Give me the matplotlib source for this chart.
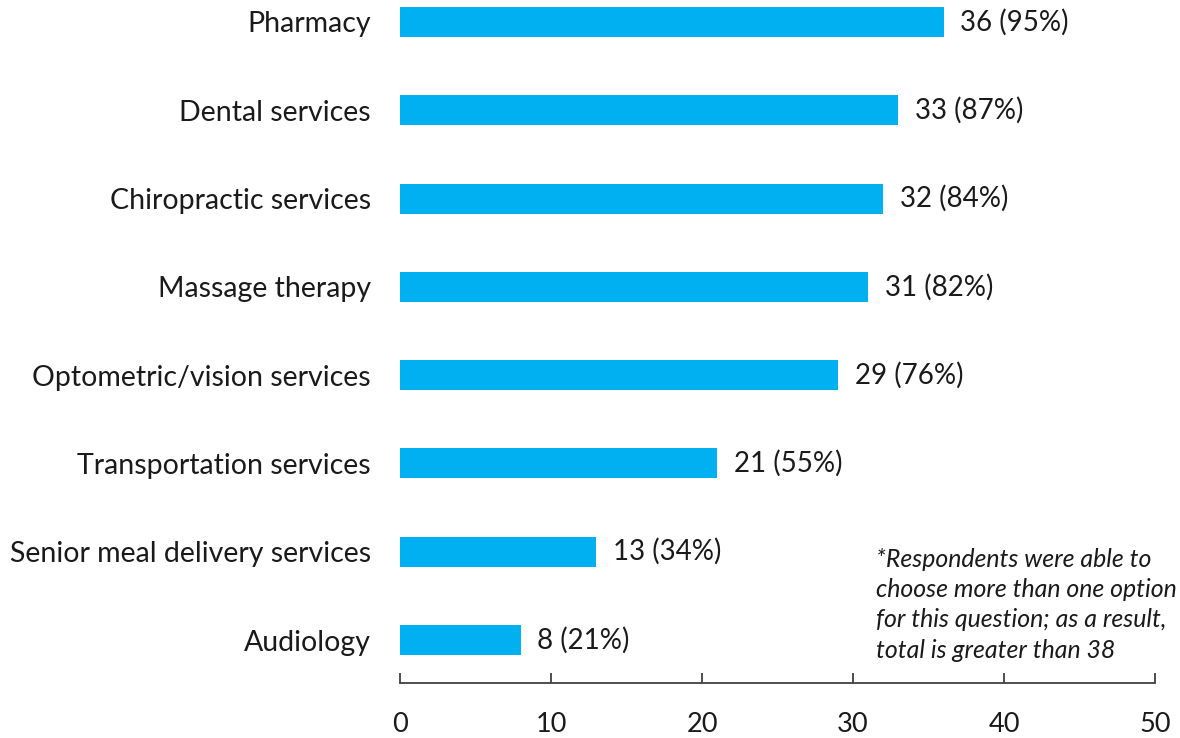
import matplotlib
matplotlib.use("Agg")
import matplotlib.pyplot as plt

# services offered, bottom to top
servicios = ["Audiology", "Senior meal delivery services", "Transportation services",
             "Optometric/vision services", "Massage therapy", "Chiropractic services",
             "Dental services", "Pharmacy"]
conteos = [8, 13, 21, 29, 31, 32, 33, 36]
porcentajes = [21, 34, 55, 76, 82, 84, 87, 95]
ticks_x = [0, 10, 20, 30, 40, 50]

nota = ("*Respondents were able to\nchoose more than one option\n"
        "for this question; as a result,\ntotal is greater than 38")

plt.rcParams['font.family'] = ['Lato', 'DejaVu Sans']
texto = '#1a1a1a'

fig = plt.figure(figsize=(11.8, 7.38), dpi=100)
ax = fig.add_axes([400/1180, 55/738, 755/1180, 683/738])

pos = range(len(servicios))
ax.barh(pos, conteos, height=0.34, color='#00B0F0')

for y, c, p in zip(pos, conteos, porcentajes):
    ax.text(c + 1.1, y, f"{c} ({p}%)", va='center', ha='left', fontsize=20, color=texto)

ax.set_xlim(0, 50)
ax.set_ylim(-0.487, 7.249)
ax.set_xticks(ticks_x)
ax.set_yticks(list(pos))
ax.set_yticklabels(servicios)

for s in ['top', 'right', 'left']:
    ax.spines[s].set_visible(False)
ax.spines['bottom'].set_color('#404040')
ax.spines['bottom'].set_linewidth(1.3)

ax.tick_params(axis='y', length=0, pad=21, labelsize=20.5, labelcolor=texto)
ax.tick_params(axis='x', direction='in', length=7, width=1.3, color='#404040',
               pad=21, labelsize=19.5, labelcolor=texto)

# footnote about multiple answers
fig.text(876/1180, 1 - 548/738, nota, ha='left', va='top', fontsize=17.9,
         style='italic', color=texto, linespacing=1.38)

fig.savefig("out.png", dpi=100)
